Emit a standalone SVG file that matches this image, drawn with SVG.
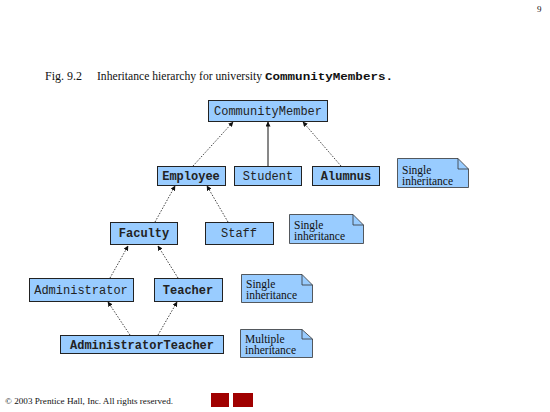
<svg xmlns="http://www.w3.org/2000/svg" width="550" height="412" viewBox="0 0 550 412">
<defs>
<style>
.box{fill:#99ccff;stroke:#222;stroke-width:1}
.lbl{font-family:"Liberation Mono",monospace;font-weight:bold;font-size:12px;fill:#222;text-anchor:middle}
.n{font-weight:normal}
.note{fill:#99ccff;stroke:#333;stroke-width:0.8}
.fold{fill:none;stroke:#333;stroke-width:0.8}
.nt{font-family:"Liberation Serif",serif;font-size:11.5px;fill:#111}
.dot{stroke:#111;stroke-width:0.8;stroke-dasharray:1.5,1.5;fill:none;marker-end:url(#ah)}
.sol{stroke:#111;stroke-width:1;fill:none;marker-end:url(#ah)}
.serif{font-family:"Liberation Serif",serif;fill:#111}
</style>
<marker id="ah" viewBox="0 0 10 10" refX="9" refY="5" markerWidth="5" markerHeight="5" orient="auto" markerUnits="userSpaceOnUse">
<path d="M0,0 L10,5 L0,10 z" fill="#111"/>
</marker>
</defs>
<rect width="550" height="412" fill="#fff"/>
<text class="serif" x="537" y="12" font-size="9">9</text>
<text class="serif" x="45" y="80" font-size="12">Fig. 9.2</text>
<text y="80" font-size="12"><tspan class="serif" x="97" font-size="12.5" textLength="165" lengthAdjust="spacingAndGlyphs">Inheritance hierarchy for university</tspan><tspan x="265" font-size="11" font-family="Liberation Mono, monospace" font-weight="bold" fill="#111" textLength="128" lengthAdjust="spacingAndGlyphs">CommunityMembers.</tspan></text>

<g id="connectors">
<line class="dot" x1="193" y1="166" x2="233" y2="122"/>
<line class="sol" x1="268" y1="166" x2="268" y2="122"/>
<line class="dot" x1="341" y1="166" x2="303" y2="122"/>
<line class="dot" x1="155" y1="222" x2="175" y2="186"/>
<line class="dot" x1="228" y1="222" x2="207" y2="186"/>
<line class="dot" x1="110" y1="278" x2="128" y2="246"/>
<line class="dot" x1="178" y1="278" x2="158" y2="246"/>
<line class="dot" x1="130" y1="335" x2="108" y2="302"/>
<line class="dot" x1="158" y1="335" x2="177" y2="302"/>
</g>

<g id="communitymember"><rect class="box" x="208.5" y="100.5" width="119" height="21"/><text class="lbl n" x="268" y="115">CommunityMember</text></g>
<g id="employee"><rect class="box" x="157.5" y="166.5" width="68" height="19"/><text class="lbl" x="191" y="180">Employee</text></g>
<g id="student"><rect class="box" x="234.5" y="166.5" width="67" height="19"/><text class="lbl n" x="268" y="180">Student</text></g>
<g id="alumnus"><rect class="box" x="312.5" y="166.5" width="67" height="19"/><text class="lbl" x="346" y="180">Alumnus</text></g>
<g id="faculty"><rect class="box" x="110.5" y="222.5" width="67" height="22"/><text class="lbl" x="144" y="237">Faculty</text></g>
<g id="staff"><rect class="box" x="205.5" y="222.5" width="68" height="22"/><text class="lbl n" x="239" y="237">Staff</text></g>
<g id="administrator"><rect class="box" x="29.5" y="278.5" width="104" height="23"/><text class="lbl n" x="81" y="294">Administrator</text></g>
<g id="teacher"><rect class="box" x="154.5" y="278.5" width="68" height="23"/><text class="lbl" x="188" y="294">Teacher</text></g>
<g id="administratorteacher"><rect class="box" x="60.5" y="335.5" width="163" height="18"/><text class="lbl" x="142" y="349">AdministratorTeacher</text></g>

<g id="note1"><path class="note" d="M397.5,158.5 H458 L468.5,169 V187.5 H397.5 Z"/><path class="fold" d="M458,158.5 V169 H468.5"/><text class="nt" x="402" y="174">Single</text><text class="nt" x="402" y="185">inheritance</text></g>
<g id="note2"><path class="note" d="M289.5,214.5 H353 L363.5,225 V243.5 H289.5 Z"/><path class="fold" d="M353,214.5 V225 H363.5"/><text class="nt" x="294" y="229">Single</text><text class="nt" x="294" y="240">inheritance</text></g>
<g id="note3"><path class="note" d="M241.5,274.5 H302 L312.5,285 V302.5 H241.5 Z"/><path class="fold" d="M302,274.5 V285 H312.5"/><text class="nt" x="246" y="288">Single</text><text class="nt" x="246" y="299">inheritance</text></g>
<g id="note4"><path class="note" d="M240.5,329.5 H302 L312.5,339 V357.5 H240.5 Z"/><path class="fold" d="M302,329.5 V339 H312.5"/><text class="nt" x="245" y="343">Multiple</text><text class="nt" x="245" y="354">inheritance</text></g>

<text class="serif" x="5" y="404" font-size="9" textLength="168" lengthAdjust="spacingAndGlyphs">© 2003 Prentice Hall, Inc.  All rights reserved.</text>
<rect x="211" y="393" width="18" height="14" fill="#a00000"/>
<rect x="233" y="393" width="20" height="14" fill="#a00000"/>
</svg>
